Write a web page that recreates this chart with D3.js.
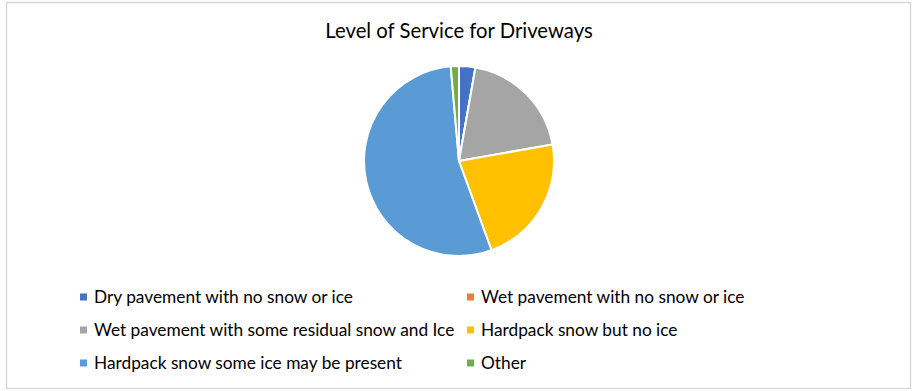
<!DOCTYPE html>
<html>
<head>
<meta charset="utf-8">
<script src="https://cdn.jsdelivr.net/npm/d3@7/dist/d3.min.js"></script>
<style>
  html, body { margin: 0; padding: 0; background: #fff; }
  svg { display: block; }
</style>
</head>
<body>
<svg id="chart" width="916" height="391"></svg>
<script>
// Survey responses: level of service expected for driveways
const categories = [
  "Dry pavement with no snow or ice",
  "Wet pavement with no snow or ice",
  "Wet pavement with some residual snow and Ice",
  "Hardpack snow but no ice",
  "Hardpack snow some ice may be present",
  "Other"
];
const responses = [2, 0, 14, 16, 39, 1];
const sliceColors = ["#4472C4", "#ED7D31", "#A5A5A5", "#FFC000", "#5B9BD5", "#70AD47"];
const chartTitle = "Level of Service for Driveways";

const W = 916, H = 391;
const svg = d3.select("#chart");
const font = "Lato, 'Open Sans', sans-serif";

// Chart frame
svg.append("rect")
  .attr("x", 6.5).attr("y", 2.5)
  .attr("width", 904).attr("height", 386)
  .attr("fill", "#fff")
  .attr("stroke", "#d9d9d9")
  .attr("stroke-width", 1.5);

// Title
svg.append("text")
  .attr("x", 459).attr("y", 38)
  .attr("text-anchor", "middle")
  .attr("font-family", font)
  .attr("font-size", 20.3)
  .attr("fill", "#000")
  .text(chartTitle);

// Pie
const data = categories.map((c, i) => ({ name: c, value: responses[i], color: sliceColors[i] }));
const pie = d3.pie().sort(null).value(d => d.value).startAngle(0).endAngle(2 * Math.PI);
const radius = 95;
const arc = d3.arc().innerRadius(0).outerRadius(radius);

const g = svg.append("g").attr("transform", "translate(459,161)");
g.selectAll("path")
  .data(pie(data))
  .join("path")
  .attr("d", arc)
  .attr("fill", d => d.data.color)
  .attr("stroke", "#fff")
  .attr("stroke-width", 2)
  .attr("stroke-linejoin", "round");

// Legend: two columns, three rows
const colX = [80, 467];
const rowY = [297, 330, 363];
const legend = svg.append("g");
data.forEach((d, i) => {
  const x = colX[i % 2], y = rowY[Math.floor(i / 2)];
  const item = legend.append("g");
  item.append("rect")
    .attr("x", x).attr("y", y - 3.5)
    .attr("width", 7).attr("height", 7)
    .attr("fill", d.color);
  item.append("text")
    .attr("x", x + 14).attr("y", y)
    .attr("dy", "0.35em")
    .attr("font-family", font)
    .attr("font-size", 17.3)
    .attr("fill", "#000")
    .text(d.name);
});
</script>
</body>
</html>
